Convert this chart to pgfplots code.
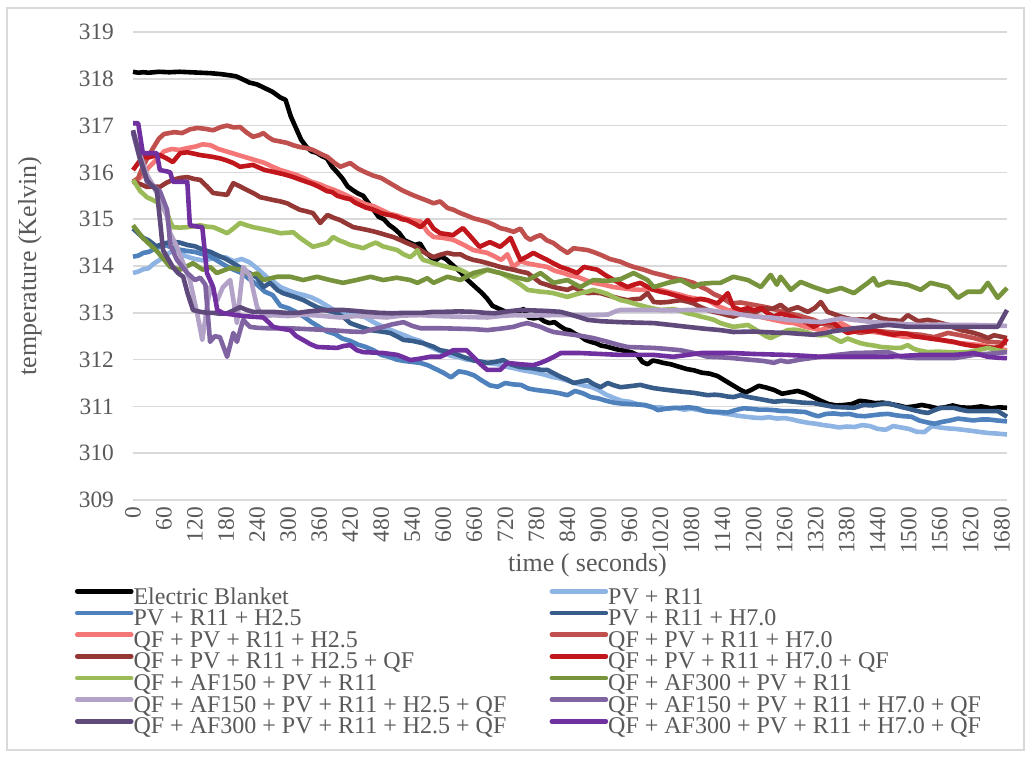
\documentclass[border=0pt]{standalone}
\usepackage{fontspec}
\setmainfont{Liberation Serif}
\usepackage{pgfplots}
\pgfplotsset{compat=1.18}
\definecolor{txt}{HTML}{595959}
\definecolor{gridgray}{HTML}{D9D9D9}
\definecolor{cEB}{HTML}{000000}
\definecolor{cA}{HTML}{8EB4E3}
\definecolor{cB}{HTML}{4F81BD}
\definecolor{cC}{HTML}{385D8A}
\definecolor{cD}{HTML}{F47676}
\definecolor{cE}{HTML}{C0504D}
\definecolor{cF}{HTML}{953735}
\definecolor{cG}{HTML}{C0161C}
\definecolor{cH}{HTML}{9BBB59}
\definecolor{cI}{HTML}{77933C}
\definecolor{cJ}{HTML}{B3A2C7}
\definecolor{cK}{HTML}{8064A2}
\definecolor{cL}{HTML}{604A7B}
\definecolor{cM}{HTML}{7030A0}
\begin{document}
\begin{tikzpicture}
\useasboundingbox (0,0) rectangle (516pt,-379pt);
\draw[gridgray, line width=0.75pt] (3.5pt,-4pt) rectangle (512pt,-375pt);
\begin{axis}[
  at={(66.5pt,-250pt)}, anchor=south west,
  scale only axis, width=437pt, height=234pt,
  xmin=0, xmax=1690, ymin=309, ymax=319,
  clip=false,
  axis line style={draw=none},
  ymajorgrids, grid style={draw=gridgray, line width=0.8pt},
  ytick={309,310,...,319}, xtick={0,60,...,1680},
  major tick length=0pt,
  /pgf/number format/assume math mode=true,
  /pgf/number format/1000 sep={},
  tick label style={font=\fontsize{11.7}{13}\selectfont, text=txt},
  yticklabel style={xshift=-6pt},
  xticklabel style={rotate=90, anchor=east},
  xlabel={time ( seconds)}, ylabel={temperature (Kelvin)},
  label style={font=\fontsize{13}{15}\selectfont, text=txt},
  xlabel style={at={(axis description cs:0.52,-0.139)}, anchor=center},
  ylabel style={at={(axis description cs:-0.118,0.5)}, anchor=center},
  every axis plot/.append style={no marks, line width=2.3pt, line join=round},
  legend columns=2,
  legend cell align=left,
  legend image code/.code={\draw[#1, line cap=round] (0pt,3.2pt) -- (27pt,3.2pt);},
  legend style={at={(axis description cs:-0.0664,-0.1859)}, anchor=north west,
    draw=none, fill=none, inner sep=0pt, outer sep=0pt,
    font=\fontsize{12}{13}\selectfont, text=txt,
    nodes={inner sep=0pt, text height=8.5pt, text depth=2.33pt},
    /tikz/column 1/.style={column sep=0pt},
    /tikz/column 2/.style={column sep=21.6pt},
    /tikz/column 3/.style={column sep=0pt}},
]
% Electric Blanket
\addplot[cEB] coordinates {(0,318.15)(10,318.13)(20,318.14)(30,318.13)(50,318.15)(70,318.14)(90,318.15)(110,318.14)(130,318.13)(150,318.12)(170,318.1)(190,318.07)(200,318.05)(210,318.0)(225,317.92)(240,317.88)(255,317.8)(270,317.72)(285,317.6)(295,317.55)(305,317.2)(315,316.95)(325,316.7)(335,316.55)(345,316.45)(355,316.42)(365,316.35)(375,316.3)(385,316.12)(395,316.0)(405,315.87)(415,315.7)(425,315.62)(435,315.55)(445,315.5)(455,315.35)(465,315.2)(475,315.05)(485,315.0)(495,314.88)(505,314.8)(515,314.7)(525,314.55)(535,314.5)(545,314.45)(555,314.48)(565,314.3)(575,314.2)(585,314.12)(595,314.2)(605,314.15)(615,314.05)(625,313.95)(635,313.85)(645,313.72)(655,313.62)(665,313.52)(675,313.42)(685,313.3)(695,313.15)(705,313.1)(715,313.05)(725,313.0)(735,312.95)(745,313.02)(755,313.08)(765,312.9)(775,312.88)(785,312.9)(795,312.82)(805,312.78)(815,312.8)(825,312.72)(835,312.65)(845,312.62)(855,312.55)(865,312.5)(875,312.42)(885,312.38)(895,312.35)(905,312.3)(915,312.28)(925,312.25)(935,312.22)(945,312.2)(955,312.18)(965,312.15)(975,312.1)(985,311.95)(995,311.9)(1005,311.98)(1015,311.96)(1025,311.93)(1040,311.9)(1055,311.85)(1070,311.8)(1085,311.77)(1100,311.72)(1115,311.7)(1130,311.65)(1145,311.55)(1160,311.45)(1175,311.35)(1185,311.3)(1195,311.35)(1210,311.44)(1225,311.4)(1240,311.35)(1255,311.27)(1270,311.3)(1285,311.33)(1300,311.28)(1315,311.2)(1330,311.12)(1345,311.05)(1360,311.02)(1375,311.03)(1390,311.05)(1405,311.12)(1420,311.1)(1435,311.07)(1450,311.08)(1465,311.05)(1480,311.02)(1495,310.98)(1510,311.0)(1525,311.03)(1540,311.0)(1555,310.96)(1570,310.98)(1585,311.02)(1600,310.98)(1620,310.97)(1640,311.0)(1660,310.96)(1675,310.98)(1690,310.97)};
\addlegendentry{Electric Blanket}
% PV + R11
\addplot[cA] coordinates {(0,313.85)(10,313.88)(20,313.93)(30,313.95)(40,314.05)(50,314.12)(60,314.2)(70,314.28)(80,314.35)(90,314.3)(100,314.22)(110,314.18)(120,314.15)(135,314.12)(150,314.15)(165,314.2)(180,314.18)(195,314.1)(210,314.15)(225,314.08)(240,313.95)(250,313.85)(260,313.75)(270,313.68)(285,313.55)(300,313.48)(315,313.42)(330,313.38)(345,313.33)(360,313.25)(375,313.15)(390,313.05)(405,312.99)(420,312.98)(435,312.95)(450,312.9)(465,312.8)(480,312.72)(495,312.65)(510,312.58)(525,312.52)(540,312.45)(555,312.4)(570,312.3)(585,312.22)(600,312.15)(615,312.08)(630,312.05)(645,312.0)(660,311.98)(675,311.95)(690,311.92)(705,311.9)(720,311.85)(735,311.82)(750,311.78)(765,311.75)(780,311.72)(795,311.68)(810,311.63)(825,311.6)(840,311.55)(855,311.5)(870,311.45)(885,311.42)(900,311.35)(915,311.25)(930,311.18)(945,311.12)(960,311.1)(975,311.05)(990,311.02)(1005,310.98)(1020,310.98)(1035,310.95)(1050,310.97)(1065,310.93)(1080,310.95)(1095,310.92)(1110,310.9)(1125,310.88)(1140,310.85)(1155,310.83)(1170,310.8)(1185,310.78)(1200,310.76)(1215,310.75)(1230,310.77)(1245,310.74)(1260,310.75)(1275,310.72)(1290,310.68)(1305,310.65)(1320,310.63)(1335,310.6)(1350,310.58)(1365,310.55)(1380,310.57)(1395,310.56)(1410,310.6)(1425,310.58)(1440,310.52)(1455,310.5)(1470,310.58)(1485,310.55)(1500,310.52)(1515,310.46)(1530,310.45)(1545,310.58)(1560,310.55)(1575,310.53)(1590,310.52)(1605,310.5)(1620,310.48)(1640,310.45)(1655,310.43)(1670,310.42)(1690,310.4)};
\addlegendentry{PV + R11}
% PV + R11 + H2.5
\addplot[cB] coordinates {(0,314.2)(10,314.22)(20,314.28)(30,314.3)(45,314.38)(60,314.45)(75,314.4)(90,314.35)(105,314.32)(120,314.3)(135,314.25)(150,314.2)(165,314.1)(180,314.0)(195,313.92)(210,313.85)(225,313.72)(240,313.6)(255,313.45)(270,313.38)(285,313.15)(300,313.1)(315,313.02)(330,312.92)(345,312.8)(360,312.7)(375,312.6)(390,312.55)(405,312.45)(420,312.4)(435,312.32)(450,312.27)(465,312.2)(480,312.1)(495,312.06)(510,312.0)(525,311.97)(540,311.95)(555,311.93)(570,311.88)(585,311.8)(600,311.72)(615,311.62)(630,311.75)(645,311.72)(660,311.66)(675,311.55)(690,311.45)(705,311.42)(720,311.5)(735,311.47)(750,311.46)(765,311.38)(780,311.35)(795,311.33)(810,311.31)(825,311.28)(840,311.24)(855,311.33)(870,311.28)(885,311.2)(900,311.17)(915,311.12)(930,311.08)(945,311.06)(960,311.05)(975,311.04)(990,311.03)(1005,310.98)(1015,310.92)(1030,310.95)(1045,310.97)(1060,310.97)(1075,310.98)(1090,310.96)(1105,310.9)(1120,310.88)(1135,310.88)(1150,310.87)(1165,310.92)(1180,310.96)(1195,310.95)(1210,310.93)(1225,310.93)(1240,310.92)(1255,310.9)(1270,310.9)(1285,310.89)(1300,310.88)(1315,310.82)(1325,310.79)(1340,310.84)(1355,310.85)(1370,310.83)(1385,310.84)(1400,310.8)(1415,310.79)(1430,310.81)(1445,310.83)(1460,310.84)(1475,310.81)(1490,310.79)(1505,310.78)(1520,310.7)(1535,310.66)(1550,310.63)(1565,310.67)(1580,310.7)(1595,310.74)(1610,310.72)(1625,310.7)(1640,310.72)(1655,310.72)(1670,310.7)(1690,310.68)};
\addlegendentry{PV + R11 + H2.5}
% PV + R11 + H7.0
\addplot[cC] coordinates {(0,314.8)(10,314.7)(20,314.6)(30,314.55)(45,314.42)(60,314.48)(75,314.52)(90,314.5)(105,314.45)(120,314.42)(135,314.35)(150,314.3)(165,314.22)(180,314.15)(195,314.05)(210,313.95)(225,313.85)(240,313.75)(252,313.55)(265,313.64)(280,313.48)(290,313.42)(310,313.35)(330,313.27)(345,313.18)(356,313.12)(375,313.05)(395,312.99)(410,312.88)(420,312.78)(440,312.7)(459,312.63)(480,312.6)(497,312.57)(510,312.5)(523,312.42)(540,312.4)(561,312.35)(580,312.28)(594,312.2)(605,312.18)(619,312.14)(640,312.05)(660,311.98)(685,311.93)(700,311.95)(716,311.99)(730,311.9)(749,311.84)(770,311.82)(790,311.78)(801,311.78)(815,311.7)(827,311.63)(840,311.57)(852,311.5)(865,311.53)(879,311.56)(890,311.48)(904,311.41)(918,311.5)(930,311.45)(943,311.41)(960,311.43)(981,311.46)(995,311.42)(1007,311.39)(1020,311.37)(1034,311.35)(1050,311.33)(1065,311.31)(1084,311.29)(1100,311.26)(1111,311.24)(1125,311.25)(1136,311.24)(1150,311.21)(1161,311.2)(1175,311.24)(1190,311.2)(1200,311.18)(1220,311.14)(1239,311.1)(1260,311.12)(1278,311.1)(1295,311.08)(1316,311.07)(1335,311.03)(1355,310.99)(1375,310.98)(1394,310.97)(1413,311.03)(1430,311.02)(1445,311.05)(1460,311.07)(1475,311.02)(1485,310.99)(1500,310.95)(1510,310.92)(1525,310.88)(1537,310.86)(1550,310.92)(1562,310.97)(1575,310.97)(1587,310.97)(1600,310.93)(1614,310.9)(1630,310.9)(1653,310.9)(1672,310.9)(1690,310.78)};
\addlegendentry{PV + R11 + H7.0}
% QF + PV + R11 + H2.5
\addplot[cD] coordinates {(0,315.8)(10,315.85)(20,315.95)(30,316.1)(45,316.27)(60,316.45)(75,316.5)(90,316.48)(105,316.52)(120,316.55)(135,316.6)(150,316.58)(165,316.5)(180,316.45)(195,316.4)(210,316.35)(225,316.3)(240,316.25)(255,316.2)(270,316.12)(285,316.05)(300,316.0)(315,315.95)(330,315.88)(345,315.8)(360,315.75)(375,315.68)(390,315.62)(405,315.55)(420,315.47)(435,315.4)(450,315.32)(465,315.28)(480,315.2)(495,315.12)(510,315.08)(525,315.02)(540,314.98)(556,314.95)(570,314.72)(581,314.62)(600,314.6)(619,314.56)(640,314.45)(658,314.34)(685,314.28)(700,314.2)(712,314.13)(724,314.25)(735,313.98)(749,314.1)(765,314.05)(780,314.02)(801,313.98)(815,313.9)(832,313.85)(845,313.8)(859,313.77)(875,313.7)(890,313.64)(910,313.6)(929,313.55)(950,313.52)(965,313.5)(981,313.49)(1000,313.5)(1020,313.49)(1045,313.42)(1060,313.38)(1072,313.34)(1090,313.3)(1111,313.27)(1130,313.15)(1150,313.06)(1170,313.02)(1189,312.99)(1210,312.92)(1239,312.85)(1260,312.8)(1278,312.78)(1300,312.7)(1330,312.63)(1350,312.72)(1369,312.78)(1390,312.66)(1407,312.63)(1425,312.6)(1446,312.57)(1470,312.52)(1498,312.48)(1523,312.5)(1545,312.45)(1562,312.42)(1580,312.38)(1601,312.35)(1620,312.33)(1640,312.31)(1665,312.25)(1690,312.2)};
\addlegendentry{QF + PV + R11 + H2.5}
% QF + PV + R11 + H7.0
\addplot[cE] coordinates {(0,315.8)(10,315.88)(19,316.12)(30,316.35)(40,316.54)(50,316.72)(60,316.82)(70,316.84)(80,316.86)(95,316.84)(110,316.92)(125,316.95)(140,316.93)(155,316.9)(170,316.97)(182,317.0)(195,316.96)(207,316.97)(220,316.85)(232,316.76)(245,316.8)(252,316.84)(262,316.75)(271,316.69)(285,316.66)(298,316.63)(310,316.58)(323,316.54)(335,316.52)(348,316.48)(362,316.4)(376,316.33)(390,316.2)(401,316.12)(420,316.2)(435,316.08)(450,316.0)(465,315.93)(480,315.88)(500,315.75)(520,315.62)(540,315.52)(556,315.45)(568,315.4)(581,315.34)(594,315.38)(608,315.24)(620,315.2)(633,315.13)(645,315.08)(658,315.02)(672,314.98)(685,314.94)(698,314.88)(710,314.81)(722,314.78)(736,314.73)(749,314.8)(760,314.62)(768,314.56)(778,314.62)(788,314.66)(800,314.55)(813,314.49)(826,314.38)(840,314.28)(852,314.38)(865,314.36)(879,314.34)(890,314.3)(904,314.24)(922,314.15)(943,314.09)(955,314.03)(968,313.98)(988,313.92)(1007,313.85)(1026,313.8)(1045,313.74)(1065,313.7)(1084,313.64)(1097,313.56)(1111,313.49)(1123,313.4)(1136,313.34)(1156,313.2)(1175,313.22)(1200,313.17)(1215,313.14)(1233,313.1)(1250,313.04)(1266,312.99)(1285,312.95)(1300,312.9)(1316,312.85)(1330,312.78)(1355,312.7)(1382,312.63)(1407,312.57)(1432,312.62)(1460,312.59)(1490,312.56)(1523,312.53)(1549,312.48)(1576,312.57)(1600,312.52)(1626,312.46)(1653,312.38)(1670,312.37)(1690,312.35)};
\addlegendentry{QF + PV + R11 + H7.0}
% QF + PV + R11 + H2.5 + QF
\addplot[cF] coordinates {(0,315.8)(14,315.75)(27,315.69)(40,315.7)(52,315.69)(65,315.78)(77,315.84)(90,315.88)(105,315.9)(118,315.86)(130,315.84)(143,315.7)(155,315.56)(168,315.54)(182,315.52)(194,315.77)(207,315.7)(221,315.62)(234,315.55)(246,315.47)(259,315.44)(271,315.41)(285,315.38)(298,315.34)(310,315.27)(323,315.2)(335,315.17)(348,315.13)(362,314.92)(376,315.09)(388,315.03)(401,314.98)(414,314.9)(426,314.83)(440,314.8)(453,314.77)(465,314.74)(478,314.7)(490,314.66)(503,314.62)(516,314.56)(530,314.49)(543,314.43)(556,314.34)(568,314.26)(581,314.19)(594,314.24)(608,314.28)(620,314.25)(633,314.25)(645,314.18)(658,314.13)(672,314.1)(685,314.06)(698,314.02)(710,313.98)(722,313.95)(736,313.92)(750,313.88)(763,313.85)(775,313.75)(788,313.64)(800,313.6)(813,313.55)(826,313.52)(840,313.49)(852,313.55)(865,313.47)(879,313.42)(890,313.43)(904,313.42)(916,313.38)(929,313.34)(943,313.3)(956,313.27)(968,313.29)(981,313.3)(995,313.42)(1007,313.23)(1020,313.22)(1034,313.23)(1046,313.25)(1059,313.27)(1072,313.24)(1084,313.2)(1098,313.12)(1111,313.06)(1123,313.02)(1136,312.99)(1149,312.95)(1161,312.92)(1175,312.98)(1190,313.05)(1205,313.02)(1220,313.1)(1236,313.08)(1252,313.17)(1266,313.05)(1285,313.12)(1305,313.02)(1318,313.1)(1330,313.23)(1343,313.02)(1356,312.97)(1369,312.92)(1382,312.88)(1394,312.85)(1408,312.86)(1421,312.85)(1432,312.95)(1446,312.88)(1460,312.85)(1473,312.84)(1485,312.82)(1498,312.95)(1518,312.82)(1537,312.85)(1556,312.8)(1576,312.74)(1588,312.68)(1601,312.63)(1614,312.6)(1626,312.57)(1640,312.52)(1653,312.46)(1665,312.52)(1678,312.49)(1690,312.46)};
\addlegendentry{QF + PV + R11 + H2.5 + QF}
% QF + PV + R11 + H7.0 + QF
\addplot[cG] coordinates {(0,316.05)(10,316.2)(19,316.33)(30,316.32)(40,316.35)(52,316.37)(65,316.3)(77,316.22)(91,316.41)(105,316.43)(118,316.4)(130,316.37)(143,316.35)(155,316.33)(168,316.3)(180,316.26)(194,316.2)(207,316.12)(220,316.14)(232,316.16)(244,316.1)(255,316.05)(268,316.02)(280,315.99)(295,315.95)(310,315.9)(322,315.85)(335,315.8)(348,315.75)(360,315.69)(375,315.6)(385,315.58)(395,315.5)(410,315.45)(420,315.43)(430,315.35)(440,315.3)(450,315.25)(460,315.22)(470,315.18)(480,315.13)(490,315.1)(500,315.08)(510,315.05)(520,315.0)(530,314.98)(545,314.9)(556,314.83)(570,314.98)(581,314.8)(594,314.7)(607,314.68)(619,314.66)(630,314.75)(638,314.81)(655,314.6)(670,314.41)(680,314.46)(690,314.51)(700,314.46)(710,314.41)(720,314.5)(730,314.6)(740,314.35)(749,314.13)(762,314.2)(774,314.28)(788,314.2)(801,314.13)(814,314.05)(827,313.98)(843,313.92)(859,313.85)(872,313.98)(885,313.95)(898,313.92)(914,313.8)(930,313.7)(943,313.62)(956,313.55)(968,313.6)(981,313.64)(994,313.56)(1007,313.49)(1020,313.45)(1034,313.42)(1046,313.38)(1059,313.34)(1072,313.3)(1084,313.27)(1098,313.3)(1111,313.27)(1122,313.23)(1130,313.2)(1140,313.3)(1150,313.42)(1161,313.12)(1175,313.06)(1189,313.1)(1201,313.05)(1214,313.1)(1226,313.0)(1239,312.92)(1252,312.98)(1266,312.95)(1279,312.9)(1291,312.85)(1304,312.78)(1316,312.7)(1330,312.78)(1343,312.8)(1355,312.78)(1368,312.66)(1382,312.57)(1395,312.6)(1407,312.63)(1420,312.6)(1432,312.63)(1452,312.57)(1471,312.53)(1485,312.56)(1498,312.55)(1510,312.5)(1523,312.48)(1542,312.45)(1562,312.42)(1575,312.4)(1587,312.38)(1600,312.34)(1614,312.31)(1627,312.29)(1640,312.27)(1653,312.26)(1665,312.25)(1678,312.28)(1690,312.45)};
\addlegendentry{QF + PV + R11 + H7.0 + QF}
% QF + AF150 + PV + R11
\addplot[cH] coordinates {(0,315.84)(14,315.6)(27,315.47)(40,315.4)(52,315.34)(60,315.2)(66,315.13)(72,314.95)(77,314.83)(91,314.82)(105,314.83)(118,314.85)(130,314.87)(143,314.84)(155,314.83)(168,314.77)(182,314.7)(194,314.8)(207,314.92)(220,314.87)(232,314.83)(246,314.8)(259,314.77)(271,314.74)(285,314.7)(298,314.71)(310,314.72)(323,314.6)(336,314.5)(348,314.41)(362,314.45)(376,314.49)(387,314.62)(398,314.55)(410,314.5)(420,314.45)(432,314.42)(445,314.38)(458,314.45)(470,314.5)(483,314.42)(497,314.38)(511,314.34)(523,314.25)(536,314.19)(543,314.25)(550,314.34)(556,314.2)(561,314.13)(571,314.1)(581,314.06)(594,314.02)(608,313.98)(620,313.95)(633,313.92)(645,313.85)(658,313.77)(672,313.85)(685,313.92)(698,313.88)(710,313.85)(723,313.78)(736,313.7)(750,313.6)(763,313.49)(775,313.47)(788,313.45)(800,313.44)(813,313.42)(826,313.38)(840,313.34)(852,313.38)(865,313.42)(878,313.45)(890,313.49)(904,313.45)(918,313.4)(930,313.33)(943,313.27)(956,313.24)(968,313.2)(981,313.16)(995,313.12)(1007,313.09)(1020,313.06)(1033,313.07)(1045,313.08)(1059,313.04)(1072,312.99)(1085,312.96)(1098,312.92)(1110,312.89)(1123,312.85)(1136,312.78)(1148,312.74)(1161,312.7)(1175,312.72)(1189,312.74)(1201,312.66)(1214,312.57)(1224,312.5)(1233,312.46)(1250,312.55)(1266,312.63)(1279,312.64)(1291,312.62)(1304,312.58)(1316,312.53)(1330,312.52)(1343,312.53)(1356,312.45)(1369,312.38)(1382,312.45)(1394,312.4)(1407,312.35)(1420,312.32)(1433,312.3)(1446,312.27)(1459,312.26)(1472,312.25)(1485,312.25)(1498,312.31)(1508,312.24)(1518,312.2)(1537,312.16)(1556,312.17)(1576,312.16)(1595,312.15)(1614,312.16)(1633,312.2)(1653,312.25)(1672,312.2)(1690,312.16)};
\addlegendentry{QF + AF150 + PV + R11}
% QF + AF300 + PV + R11
\addplot[cI] coordinates {(0,314.87)(19,314.6)(46,314.32)(66,314.06)(72,313.98)(91,313.92)(116,314.06)(135,313.92)(149,313.98)(162,313.85)(188,313.96)(207,313.92)(227,313.81)(240,313.84)(252,313.7)(279,313.77)(304,313.77)(329,313.7)(356,313.77)(381,313.7)(406,313.64)(432,313.7)(459,313.77)(484,313.7)(510,313.75)(536,313.7)(550,313.64)(569,313.74)(581,313.64)(608,313.77)(633,313.7)(658,313.85)(685,313.92)(710,313.85)(736,313.77)(763,313.7)(788,313.85)(813,313.64)(840,313.7)(865,313.55)(890,313.7)(918,313.68)(943,313.72)(968,313.85)(995,313.7)(1007,313.55)(1034,313.64)(1059,313.7)(1084,313.55)(1098,313.62)(1123,313.64)(1136,313.64)(1161,313.77)(1189,313.7)(1214,313.55)(1233,313.81)(1245,313.6)(1252,313.77)(1272,313.49)(1291,313.66)(1316,313.55)(1343,313.45)(1369,313.53)(1394,313.42)(1421,313.64)(1432,313.74)(1440,313.58)(1460,313.66)(1498,313.6)(1523,313.49)(1542,313.64)(1576,313.55)(1595,313.32)(1614,313.45)(1640,313.45)(1653,313.64)(1672,313.32)(1690,313.53)};
\addlegendentry{QF + AF300 + PV + R11}
% QF + AF150 + PV + R11 + H2.5 + QF
\addplot[cJ] coordinates {(0,316.9)(13,316.4)(27,315.95)(40,315.7)(52,315.41)(66,315.05)(72,314.7)(85,314.41)(97,314.06)(110,313.7)(124,312.99)(134,312.42)(143,313.12)(149,313.55)(163,313.27)(174,313.55)(188,313.7)(201,312.78)(213,313.98)(226,313.8)(240,313.12)(252,312.92)(270,312.95)(300,312.93)(330,312.96)(360,312.94)(400,312.9)(430,312.93)(460,312.92)(490,312.9)(520,312.94)(556,312.95)(590,312.93)(619,312.92)(650,312.91)(685,312.9)(710,312.93)(736,312.95)(770,312.94)(813,312.95)(850,312.95)(890,312.95)(918,312.96)(935,313.04)(943,313.06)(975,313.06)(1007,313.06)(1040,313.05)(1072,313.06)(1111,313.06)(1136,313.02)(1161,312.99)(1200,312.92)(1233,312.9)(1266,312.85)(1300,312.82)(1330,312.8)(1350,312.84)(1369,312.88)(1394,312.85)(1430,312.8)(1460,312.78)(1490,312.76)(1523,312.74)(1560,312.75)(1590,312.74)(1626,312.74)(1660,312.73)(1690,312.72)};
\addlegendentry{QF + AF150 + PV + R11 + H2.5 + QF}
% QF + AF150 + PV + R11 + H7.0 + QF
\addplot[cK] coordinates {(0,316.85)(13,316.3)(27,315.8)(40,315.7)(52,315.6)(66,315.2)(72,314.45)(85,314.13)(105,313.85)(120,313.7)(130,313.75)(140,313.6)(149,312.38)(158,312.5)(168,312.48)(182,312.06)(194,312.57)(201,312.38)(213,312.85)(226,312.7)(240,312.68)(260,312.67)(300,312.67)(340,312.65)(380,312.63)(420,312.6)(445,312.59)(465,312.65)(484,312.7)(500,312.75)(523,312.8)(540,312.72)(556,312.67)(594,312.67)(630,312.66)(660,312.65)(685,312.63)(710,312.66)(736,312.7)(750,312.75)(763,312.78)(775,312.74)(788,312.7)(800,312.64)(813,312.59)(832,312.56)(852,312.53)(870,312.5)(890,312.46)(904,312.42)(918,312.38)(937,312.32)(956,312.27)(980,312.26)(1007,312.25)(1030,312.23)(1059,312.2)(1085,312.14)(1111,312.06)(1136,312.05)(1161,312.03)(1180,312.01)(1200,311.99)(1220,311.97)(1239,311.93)(1252,311.98)(1266,311.95)(1290,312.0)(1310,312.03)(1330,312.06)(1360,312.1)(1394,312.14)(1430,312.15)(1460,312.16)(1475,312.1)(1485,312.06)(1500,312.04)(1523,312.03)(1550,312.03)(1587,312.03)(1610,312.07)(1626,312.1)(1660,312.13)(1690,312.16)};
\addlegendentry{QF + AF150 + PV + R11 + H7.0 + QF}
% QF + AF300 + PV + R11 + H2.5 + QF
\addplot[cL] coordinates {(0,316.9)(13,316.33)(27,315.84)(36,315.72)(46,315.62)(52,315.0)(58,314.34)(68,314.15)(77,313.98)(87,313.85)(97,313.77)(106,313.4)(116,313.06)(130,313.02)(143,313.0)(155,313.0)(168,312.98)(182,312.99)(194,313.05)(207,313.12)(220,313.06)(232,313.02)(250,313.02)(271,313.02)(295,313.0)(320,313.0)(340,313.03)(360,313.05)(385,313.06)(407,313.06)(430,313.04)(450,313.02)(475,313.0)(500,312.99)(530,313.0)(560,313.0)(580,313.02)(600,313.02)(630,313.03)(660,313.02)(680,313.0)(700,312.99)(725,313.03)(749,313.06)(775,313.05)(800,313.04)(827,313.02)(850,312.95)(865,312.9)(879,312.85)(905,312.82)(943,312.8)(975,312.79)(1007,312.78)(1040,312.74)(1072,312.7)(1105,312.66)(1136,312.63)(1161,312.59)(1200,312.6)(1233,312.58)(1266,312.57)(1290,312.55)(1316,312.53)(1340,312.57)(1350,312.6)(1370,312.63)(1394,312.67)(1425,312.7)(1460,312.74)(1480,312.72)(1498,312.7)(1540,312.7)(1587,312.7)(1630,312.7)(1672,312.7)(1690,313.06)};
\addlegendentry{QF + AF300 + PV + R11 + H2.5 + QF}
% QF + AF300 + PV + R11 + H7.0 + QF
\addplot[cM] coordinates {(0,317.05)(10,317.05)(19,316.41)(30,316.41)(46,316.41)(52,316.05)(66,316.02)(72,316.0)(77,315.8)(90,315.8)(105,315.8)(110,314.87)(120,314.85)(134,314.83)(143,313.85)(155,313.55)(163,313.06)(175,312.99)(188,312.97)(201,312.95)(214,312.93)(226,312.92)(240,312.91)(252,312.9)(262,312.8)(271,312.7)(287,312.66)(304,312.63)(316,312.5)(329,312.42)(343,312.33)(356,312.27)(375,312.26)(395,312.25)(407,312.29)(420,312.31)(433,312.2)(445,312.16)(465,312.15)(484,312.14)(498,312.12)(511,312.1)(523,312.05)(536,311.99)(555,312.02)(574,312.06)(594,312.06)(606,312.12)(619,312.2)(632,312.2)(645,312.2)(658,312.06)(672,311.9)(685,311.78)(698,311.78)(710,311.78)(724,311.93)(749,311.9)(774,311.88)(788,311.93)(801,311.99)(814,312.06)(827,312.14)(846,312.14)(865,312.14)(904,312.12)(943,312.1)(975,312.1)(1007,312.1)(1025,312.08)(1045,312.06)(1072,312.1)(1098,312.14)(1130,312.14)(1161,312.14)(1200,312.12)(1233,312.11)(1266,312.1)(1300,312.08)(1330,312.06)(1365,312.06)(1400,312.06)(1430,312.06)(1460,312.06)(1490,312.08)(1523,312.1)(1555,312.1)(1587,312.1)(1610,312.12)(1626,312.14)(1640,312.1)(1653,312.06)(1672,312.04)(1690,312.03)};
\addlegendentry{QF + AF300 + PV + R11 + H7.0 + QF}
\end{axis}
\end{tikzpicture}
\end{document}
